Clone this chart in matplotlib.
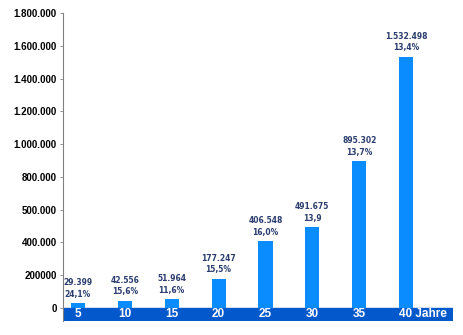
import matplotlib
matplotlib.use("Agg")
import matplotlib.pyplot as plt

years = ["5", "10", "15", "20", "25", "30", "35", "40"]
values = [29399, 42556, 51964, 177247, 406548, 491675, 895302, 1532498]
value_labels = ["29.399", "42.556", "51.964", "177.247", "406.548", "491.675", "895.302", "1.532.498"]
rate_labels = ["24,1%", "15,6%", "11,6%", "15,5%", "16,0%", "13,9", "13,7%", "13,4%"]
ytick_values = [0, 200000, 400000, 600000, 800000, 1000000, 1200000, 1400000, 1600000, 1800000]
ytick_labels = ["0", "200000", "400.000", "500.000", "800.000", "1.000.000",
                "1.200.000", "1.400.000", "1.600.000", "1.800.000"]

bar_color = "#0a8cff"
band_color = "#0358cc"
label_color = "#2a3d6e"

fig = plt.figure(figsize=(4.64, 3.35), dpi=100)
ax = fig.add_axes([63 / 464, 14 / 335, 390 / 464, 308 / 335])

x = list(range(len(years)))
ax.bar(x, values, width=0.3, color=bar_color, zorder=2)

ax.set_xlim(-0.32, 8.0)
ax.set_ylim(-80000, 1800000)
ax.axhspan(-80000, 0, color=band_color, zorder=1)

for i, (v, vl, rl) in enumerate(zip(values, value_labels, rate_labels)):
    ax.annotate(vl + "\n" + rl, (i, v), xytext=(0, 3.2), textcoords="offset points",
                ha="center", va="bottom", fontsize=5.5, fontweight="bold",
                color=label_color, family="DejaVu Sans", linespacing=1.35)

for i, y in enumerate(years):
    if i == len(years) - 1:
        ax.text(i - 0.16, -40000, y + " Jahre", ha="left", va="center",
                color="white", fontsize=8.5, fontweight="bold", family="Liberation Sans")
    else:
        ax.text(i, -40000, y, ha="center", va="center",
                color="white", fontsize=8.5, fontweight="bold", family="Liberation Sans")

ax.set_yticks(ytick_values)
ax.set_yticklabels(ytick_labels, fontsize=7, fontweight="bold", family="Liberation Sans")
ax.set_xticks([])
for s in ["top", "right", "bottom"]:
    ax.spines[s].set_visible(False)
ax.spines["left"].set_color("#808080")
ax.spines["left"].set_linewidth(0.8)
ax.tick_params(axis="y", length=2.5, width=0.6, color="#808080", pad=2)

fig.savefig("out.png", dpi=100)
